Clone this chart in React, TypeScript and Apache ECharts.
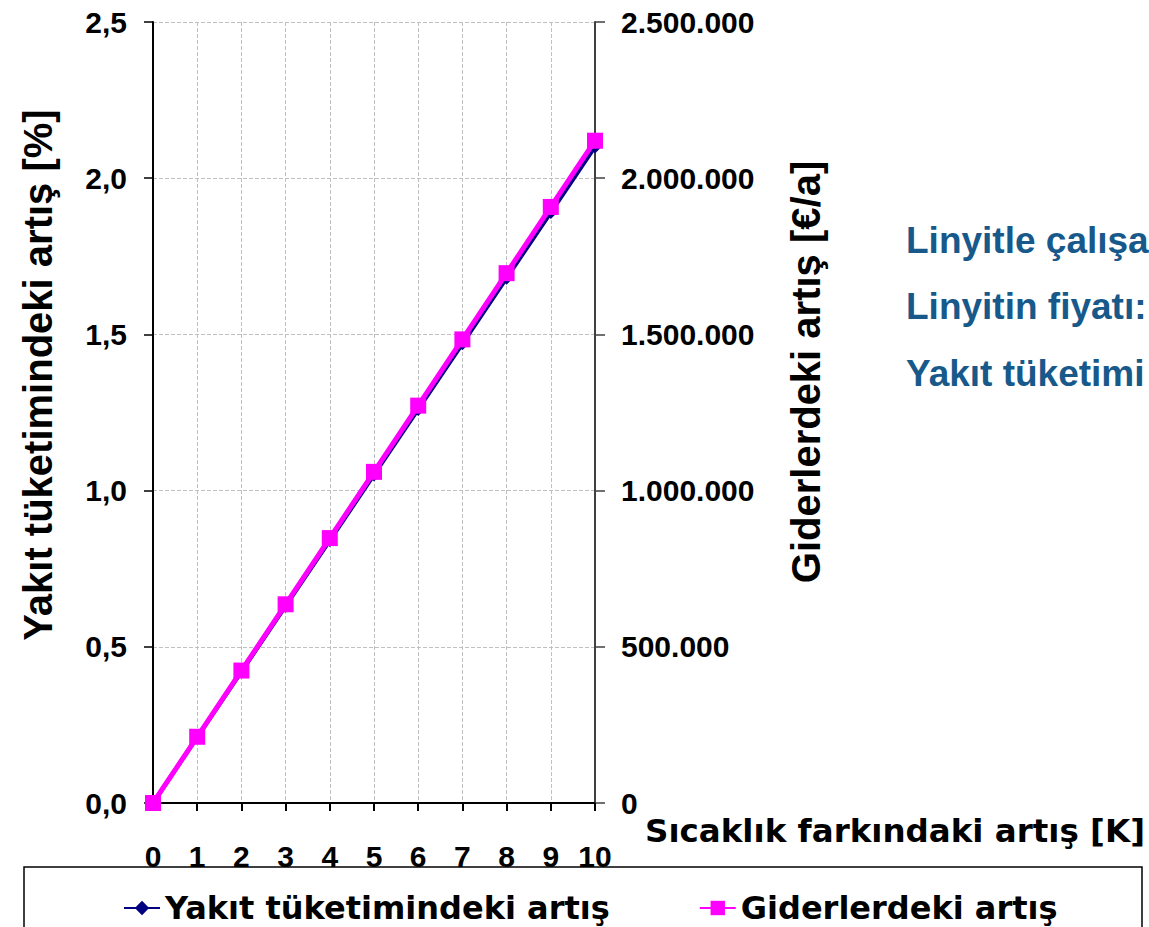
import { useEffect, useRef } from 'react';
import * as echarts from 'echarts';

// Temperature rise steps [K]
const temperatureRise = [0, 1, 2, 3, 4, 5, 6, 7, 8, 9, 10];
// Increase in fuel consumption [%]
const fuelIncrease = [0, 0.21, 0.42, 0.63, 0.84, 1.05, 1.26, 1.47, 1.68, 1.89, 2.1];
// Increase in costs [€/a]
const costIncrease = [0, 212000, 424000, 636000, 848000, 1060000, 1272000, 1484000, 1696000, 1908000, 2120000];

const seriesNames = ['Yakıt tüketimindeki artış', 'Giderlerdeki artış'];
const leftAxisTitle = 'Yakıt tüketimindeki artış [%]';
const rightAxisTitle = 'Giderlerdeki artış [€/a]';
const xAxisTitle = 'Sıcaklık farkındaki artış [K]';
const noteLines = ['Linyitle çalışa', 'Linyitin fiyatı:', 'Yakıt tüketimi'];

const WIDE_FONT = '"DejaVu Sans", sans-serif';
const ARIAL_FONT = '"Liberation Sans", Arial, sans-serif';

function thousands(v: number): string {
  const s = String(Math.round(v));
  return s.replace(/\B(?=(\d{3})+(?!\d))/g, '.');
}

export default function App() {
  const ref = useRef<HTMLDivElement>(null);

  useEffect(() => {
    if (!ref.current) return;
    const chart = echarts.init(ref.current, undefined, { renderer: 'svg' });

    const tickLabel = {
      fontFamily: ARIAL_FONT,
      fontWeight: 'bold' as const,
      fontSize: 30,
      color: '#000',
    };

    chart.setOption({
      animation: false,
      backgroundColor: '#fff',
      grid: { left: 153, right: 554, top: 22, bottom: 124, containLabel: false },
      xAxis: {
        type: 'value',
        min: 0,
        max: 10,
        interval: 1,
        axisLine: { show: true, onZero: false, lineStyle: { color: '#000', width: 2 } },
        axisTick: { show: true, inside: false, length: 8, lineStyle: { color: '#000', width: 2 } },
        axisLabel: { ...tickLabel, margin: 38 },
        splitLine: { show: true, lineStyle: { color: '#c0c0c0', width: 1, type: [4, 2] } },
      },
      yAxis: [
        {
          type: 'value',
          position: 'left',
          min: 0,
          max: 2.5,
          interval: 0.5,
          axisLine: { show: true, lineStyle: { color: '#000', width: 2 } },
          axisTick: { show: true, inside: false, length: 9, lineStyle: { color: '#000', width: 1.5 } },
          axisLabel: { ...tickLabel, margin: 26, formatter: (v: number) => v.toFixed(1).replace('.', ',') },
          splitLine: { show: true, lineStyle: { color: '#c0c0c0', width: 1, type: [4, 2] } },
        },
        {
          type: 'value',
          position: 'right',
          min: 0,
          max: 2500000,
          interval: 500000,
          axisLine: { show: true, lineStyle: { color: '#404040', width: 2 } },
          axisTick: { show: true, inside: false, length: 10, lineStyle: { color: '#404040', width: 1.5 } },
          axisLabel: { ...tickLabel, margin: 26, formatter: (v: number) => thousands(v) },
          splitLine: { show: false },
        },
      ],
      legend: {
        left: 118,
        top: 884,
        itemWidth: 36,
        itemHeight: 18,
        itemGap: 89,
        data: seriesNames,
        textStyle: { fontFamily: WIDE_FONT, fontWeight: 'bold', fontSize: 32, color: '#000', lineHeight: 38 },
      },
      series: [
        {
          name: seriesNames[0],
          type: 'line',
          yAxisIndex: 0,
          data: temperatureRise.map((t, i) => [t, fuelIncrease[i]]),
          symbol: 'diamond',
          symbolSize: 13,
          color: '#000080',
          lineStyle: { color: '#000080', width: 4 },
          itemStyle: { color: '#000080' },
          z: 2,
        },
        {
          name: seriesNames[1],
          type: 'line',
          yAxisIndex: 1,
          data: temperatureRise.map((t, i) => [t, costIncrease[i]]),
          symbol: 'rect',
          symbolSize: 16,
          color: '#ff00ff',
          lineStyle: { color: '#ff00ff', width: 5 },
          itemStyle: { color: '#ff00ff' },
          z: 3,
        },
      ],
      graphic: [
        {
          type: 'text',
          x: 38,
          y: 375,
          rotation: Math.PI / 2,
          style: {
            text: leftAxisTitle,
            fontFamily: ARIAL_FONT,
            fontWeight: 'bold',
            fontSize: 40,
            fill: '#000',
            align: 'center',
            verticalAlign: 'middle',
          },
        },
        {
          type: 'text',
          x: 806,
          y: 372,
          rotation: Math.PI / 2,
          style: {
            text: rightAxisTitle,
            fontFamily: ARIAL_FONT,
            fontWeight: 'bold',
            fontSize: 40,
            fill: '#000',
            align: 'center',
            verticalAlign: 'middle',
          },
        },
        {
          type: 'text',
          x: 645,
          y: 831,
          style: {
            text: xAxisTitle,
            fontFamily: WIDE_FONT,
            fontWeight: 'bold',
            fontSize: 32.5,
            fill: '#000',
            align: 'left',
            verticalAlign: 'middle',
          },
        },
        ...noteLines.map((line, i) => ({
          type: 'text',
          x: 906,
          y: 240 + i * 66.5,
          style: {
            text: line,
            fontFamily: ARIAL_FONT,
            fontWeight: 'bold',
            fontSize: 37,
            fill: '#17598a',
            align: 'left',
            verticalAlign: 'middle',
          },
        })),
        {
          type: 'rect',
          shape: { x: 24, y: 867, width: 1118, height: 100 },
          style: { fill: 'none', stroke: '#000', lineWidth: 1.5 },
          z: -1,
        },
      ],
    });

    return () => chart.dispose();
  }, []);

  return (
    <div
      ref={ref}
      style={{ position: 'fixed', left: 0, top: 0, width: 1149, height: 927 }}
    />
  );
}
